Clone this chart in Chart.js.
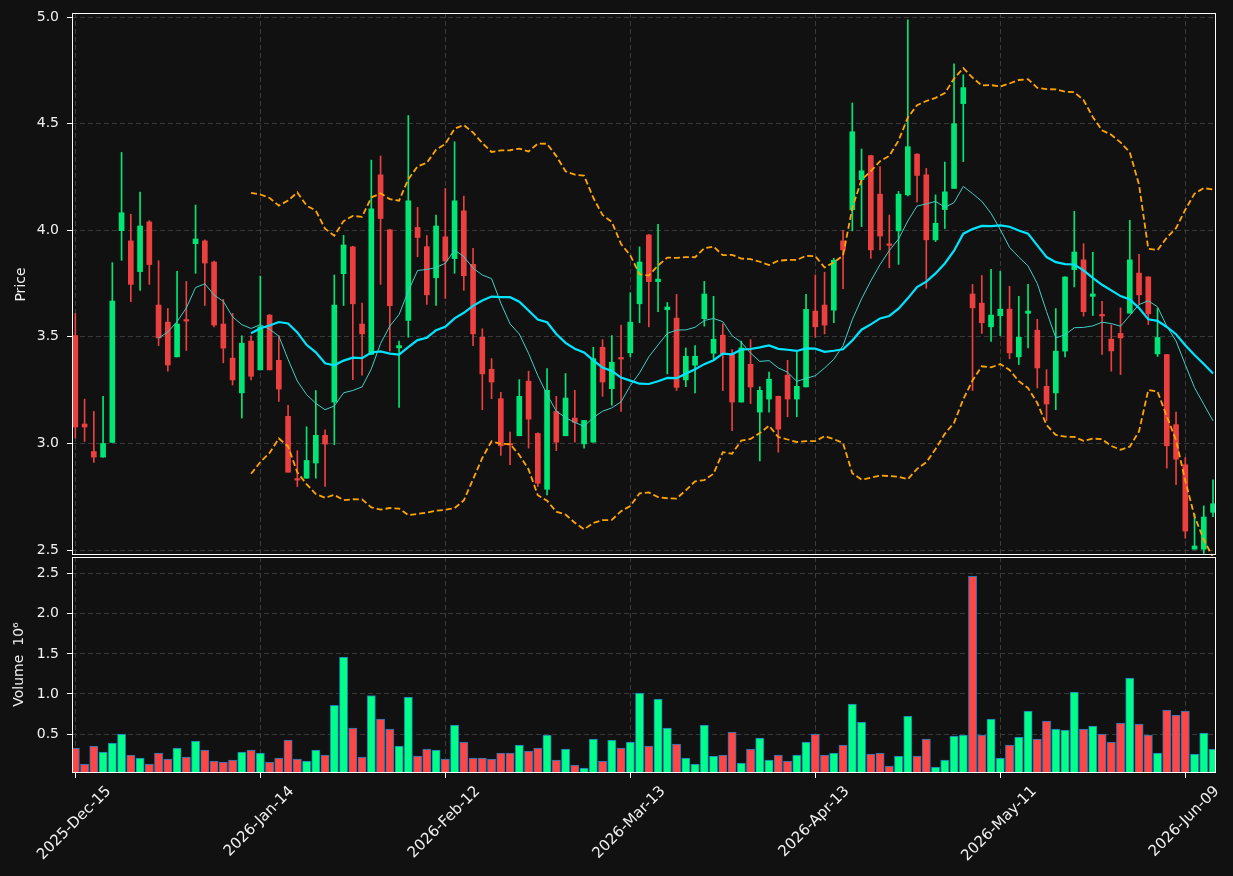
<!DOCTYPE html>
<html>
<head>
<meta charset="utf-8">
<script src="https://cdn.jsdelivr.net/npm/chart.js@4.4.1/dist/chart.umd.min.js"></script>
<style>
  html, body { margin: 0; padding: 0; background: #111111; }
  #wrap { width: 1233px; height: 876px; }
</style>
</head>
<body>
<div id="wrap"><canvas id="chart" width="1233" height="876"></canvas></div>
<script>
// ---- data ----
const opens = [3.506,3.091,2.962,2.936,3.005,3.998,3.950,3.806,4.039,3.649,
  3.569,3.406,3.577,3.937,3.950,3.851,3.560,3.400,3.237,3.480,
  3.345,3.602,3.390,3.127,2.831,2.837,2.908,3.038,3.194,3.796,
  3.922,3.560,3.417,4.260,4.002,3.448,3.577,4.013,3.923,3.777,
  3.969,3.867,4.091,3.840,3.498,3.348,3.210,3.000,3.036,3.292,
  3.047,2.785,3.150,3.036,3.119,2.998,3.006,3.451,3.257,3.400,
  3.425,3.655,3.978,3.759,3.627,3.588,3.298,3.367,3.585,3.423,
  3.508,3.417,3.194,3.371,3.147,3.208,3.221,3.320,3.208,3.265,
  3.621,3.649,3.625,3.950,4.096,4.237,4.350,4.169,3.933,3.997,
  4.166,4.357,4.260,3.955,4.097,4.196,4.594,3.701,3.658,3.547,
  3.599,3.630,3.406,3.610,3.531,3.268,3.237,3.433,3.815,3.861,
  3.690,3.602,3.489,3.516,3.611,3.799,3.781,3.420,3.417,3.088,
  2.900,2.504,2.504,2.677];
const highs = [3.610,3.208,3.150,3.221,3.848,4.365,4.075,4.179,4.045,3.857,
  3.633,3.807,3.760,4.118,3.955,3.855,3.676,3.610,3.505,3.505,
  3.785,3.605,3.505,3.179,2.966,3.078,3.248,3.064,3.790,3.976,
  3.925,3.658,4.329,4.348,4.005,3.480,4.538,4.107,3.975,4.071,
  4.196,4.415,4.160,3.915,3.538,3.398,3.240,3.053,3.299,3.339,
  3.050,3.351,3.221,3.328,3.249,3.108,3.451,3.487,3.506,3.555,
  3.707,3.922,3.980,4.028,3.661,3.699,3.448,3.459,3.760,3.690,
  3.561,3.440,3.480,3.487,3.266,3.335,3.222,3.390,3.429,3.699,
  3.790,3.803,3.868,4.000,4.597,4.381,4.352,4.299,4.071,4.182,
  4.987,4.360,4.290,4.166,4.320,4.780,4.729,3.746,3.788,3.817,
  3.807,3.737,3.690,3.746,3.582,3.346,3.633,3.781,4.089,3.937,
  3.897,3.666,3.556,3.636,4.047,3.887,3.782,3.633,3.418,3.147,
  2.934,2.669,2.707,2.829];
const lows = [3.025,3.009,2.911,2.936,3.005,3.859,3.665,3.718,3.746,3.459,
  3.339,3.406,3.436,3.798,3.647,3.547,3.378,3.274,3.119,3.298,
  3.345,3.345,3.197,2.865,2.798,2.837,2.837,2.798,2.994,3.647,
  3.299,3.320,3.417,3.746,3.433,3.169,3.498,3.876,3.652,3.647,
  3.680,3.798,3.718,3.459,3.158,3.210,2.944,2.900,3.036,2.978,
  2.798,2.759,2.966,3.036,3.006,2.978,3.006,3.221,3.179,3.150,
  3.406,3.566,3.547,3.618,3.326,3.248,3.266,3.237,3.550,3.398,
  3.248,3.060,3.194,3.187,2.918,3.147,2.959,3.125,3.125,3.265,
  3.498,3.514,3.566,3.726,3.997,4.017,3.868,3.908,3.824,3.840,
  4.161,4.133,3.728,3.947,4.008,4.196,4.322,3.248,3.516,3.478,
  3.506,3.397,3.370,3.448,3.260,3.107,3.158,3.406,3.734,3.597,
  3.600,3.417,3.339,3.323,3.611,3.652,3.558,3.408,2.884,2.806,
  2.555,2.504,2.484,2.657];
const closes = [3.077,3.077,2.936,3.000,3.668,4.082,3.746,4.020,3.839,3.495,
  3.368,3.560,3.574,3.959,3.846,3.555,3.447,3.298,3.470,3.315,
  3.547,3.345,3.255,2.865,2.828,2.920,3.038,2.997,3.649,3.931,
  3.655,3.514,4.100,4.055,3.646,3.459,4.138,3.966,3.697,4.020,
  3.856,4.138,3.787,3.514,3.326,3.288,2.989,2.992,3.221,3.114,
  2.813,3.249,3.006,3.213,3.099,3.108,3.398,3.288,3.381,3.396,
  3.569,3.851,3.759,3.771,3.640,3.263,3.409,3.409,3.701,3.489,
  3.420,3.194,3.448,3.265,3.249,3.301,3.067,3.208,3.268,3.629,
  3.547,3.555,3.859,3.908,4.462,4.279,3.908,3.973,3.929,4.169,
  4.392,4.257,3.955,4.033,4.180,4.500,4.669,3.636,3.566,3.602,
  3.630,3.425,3.498,3.621,3.354,3.185,3.433,3.781,3.898,3.618,
  3.701,3.598,3.434,3.495,3.861,3.697,3.608,3.497,2.989,2.926,
  2.589,2.519,2.655,2.717];
// volume in millions
const volumes = [0.326,0.127,0.351,0.276,0.389,0.500,0.239,0.202,0.127,0.264,
  0.189,0.326,0.214,0.413,0.301,0.164,0.152,0.177,0.276,0.301,
  0.264,0.152,0.202,0.426,0.189,0.164,0.301,0.239,0.857,1.459,
  0.575,0.214,0.981,0.687,0.563,0.351,0.961,0.226,0.314,0.301,
  0.189,0.613,0.401,0.202,0.202,0.189,0.264,0.264,0.364,0.289,
  0.326,0.488,0.177,0.314,0.115,0.077,0.438,0.164,0.426,0.326,
  0.401,1.011,0.351,0.936,0.575,0.376,0.202,0.127,0.613,0.226,
  0.239,0.526,0.139,0.314,0.451,0.177,0.239,0.164,0.239,0.401,
  0.500,0.239,0.264,0.364,0.874,0.650,0.252,0.264,0.102,0.226,
  0.725,0.226,0.438,0.090,0.177,0.476,0.488,2.468,0.488,0.687,
  0.202,0.364,0.463,0.787,0.438,0.662,0.563,0.550,1.024,0.563,
  0.600,0.500,0.401,0.638,1.198,0.625,0.488,0.264,0.800,0.737,
  0.787,0.252,0.513,0.314];

// x tick positions (bar index) and their date labels
const tickPos = [0, 20, 40, 60, 80, 100, 120];
const tickLabels = ['2025-Dec-15', '2026-Jan-14', '2026-Feb-12', '2026-Mar-13',
  '2026-Apr-13', '2026-May-11', '2026-Jun-09'];
const priceTicks = [2.5, 3.0, 3.5, 4.0, 4.5, 5.0];
const volTicks = [0.5, 1.0, 1.5, 2.0, 2.5];

// ---- colours ----
const UP = '#00e676';
const DOWN = '#ec3f3f';
const VOL_UP = '#00ff88';
const VOL_DOWN = '#ff4646';
const TEXT = '#f0f0f0';
const GRID = '#3a3a3a';
const FONT = 'DejaVu Sans';

// moving averages / bollinger bands from the closes
function sma(arr, n) {
    const out = [];
    for (let i = n - 1; i < arr.length; i++) {
        let s = 0;
        for (let k = i - n + 1; k <= i; k++) s += arr[k];
        out.push({ x: i, y: s / n });
    }
    return out;
}
function bands(arr, n, mult) {
    const upper = [], lower = [];
    for (let i = n - 1; i < arr.length; i++) {
        let s = 0;
        for (let k = i - n + 1; k <= i; k++) s += arr[k];
        const m = s / n;
        let v = 0;
        for (let k = i - n + 1; k <= i; k++) v += (arr[k] - m) * (arr[k] - m);
        const sd = Math.sqrt(v / n);
        upper.push({ x: i, y: m + mult * sd });
        lower.push({ x: i, y: m - mult * sd });
    }
    return { upper, lower };
}

const idx = closes.map((_, i) => i);
const isUp = idx.map(i => closes[i] >= opens[i]);
const bb = bands(closes, 20, 2);

// white frame round each panel (crisp 1px lines, small gap between panels)
const framePlugin = {
    id: 'frames',
    afterDraw(chart) {
        const { ctx, chartArea } = chart;
        const p = chart.scales.y, v = chart.scales.yv;
        const l = Math.round(chartArea.left) + 0.5;
        const r = Math.round(chartArea.right) - 0.5;
        ctx.save();
        ctx.strokeStyle = '#ffffff';
        ctx.lineWidth = 1;
        ctx.strokeRect(l, Math.round(p.top) + 0.5, r - l, Math.round(p.bottom) - Math.round(p.top) - 2);
        ctx.strokeRect(l, Math.round(v.top) + 1.5, r - l, Math.round(v.bottom) - Math.round(v.top) - 2);
        ctx.restore();
    }
};

// date labels rotated 45deg, centred on their tick (matplotlib style)
const dateLabelPlugin = {
    id: 'dateLabels',
    afterDraw(chart) {
        const { ctx } = chart;
        const xs = chart.scales.x;
        ctx.save();
        ctx.fillStyle = TEXT;
        ctx.font = '15px "DejaVu Sans"';
        ctx.textAlign = 'center';
        ctx.textBaseline = 'middle';
        tickPos.forEach((p, k) => {
            const w = ctx.measureText(tickLabels[k]).width;
            const cx = xs.getPixelForValue(p) - 1;
            const cy = xs.top + 12 + (w + 11) / (2 * Math.SQRT2);
            ctx.save();
            ctx.translate(cx, cy);
            ctx.rotate(-Math.PI / 4);
            ctx.fillText(tickLabels[k], 0, 0);
            ctx.restore();
        });
        ctx.restore();
    }
};

function fixLeftAxis(s) {
    s.width = 72;
    s.paddingTop = 0;
    s.paddingBottom = 0;
}

const ctx = document.getElementById('chart').getContext('2d');
new Chart(ctx, {
    type: 'bar',
    data: {
        datasets: [
            {
                type: 'line', label: 'SMA20', yAxisID: 'y', order: 0,
                data: sma(closes, 20),
                borderColor: '#00e5ff', borderWidth: 2.2, pointRadius: 0, tension: 0
            },
            {
                type: 'line', label: 'SMA10', yAxisID: 'y', order: 0,
                data: sma(closes, 10),
                borderColor: '#3fcfc6', borderWidth: 1, pointRadius: 0, tension: 0
            },
            {
                type: 'line', label: 'BB upper', yAxisID: 'y', order: 0,
                data: bb.upper,
                borderColor: '#ffa500', borderWidth: 1.8, borderDash: [6, 3], pointRadius: 0, tension: 0
            },
            {
                type: 'line', label: 'BB lower', yAxisID: 'y', order: 0,
                data: bb.lower,
                borderColor: '#ffa500', borderWidth: 1.8, borderDash: [6, 3], pointRadius: 0, tension: 0
            },
            {
                label: 'body', yAxisID: 'y', order: 1, grouped: false,
                data: idx.map(i => ({ x: i, y: [opens[i], closes[i]] })),
                backgroundColor: isUp.map(u => u ? UP : DOWN),
                barThickness: 5, minBarLength: 1.5, borderWidth: 0
            },
            {
                label: 'wick', yAxisID: 'y', order: 2, grouped: false,
                data: idx.map(i => ({ x: i, y: [lows[i], highs[i]] })),
                backgroundColor: isUp.map(u => u ? UP : DOWN),
                barThickness: 1, borderWidth: 0
            },
            {
                label: 'volume', yAxisID: 'yv', order: 1, grouped: false,
                data: idx.map(i => ({ x: i, y: volumes[i] })),
                backgroundColor: isUp.map(u => u ? VOL_UP : VOL_DOWN),
                borderColor: '#1f77b4', borderWidth: 1,
                barThickness: 8.3
            }
        ]
    },
    options: {
        responsive: false,
        animation: false,
        devicePixelRatio: 1,
        layout: { padding: { top: 13, right: 17, left: 0, bottom: 0 } },
        plugins: { legend: { display: false }, tooltip: { enabled: false } },
        scales: {
            // left boxes are stacked in reverse order: yv first puts it at the bottom
            yv: {
                type: 'linear', position: 'left', stack: 'main', stackWeight: 217,
                min: 0.015, max: 2.72,
                afterBuildTicks: s => { s.ticks = volTicks.map(v => ({ value: v })); },
                afterFit: fixLeftAxis,
                ticks: { color: TEXT, font: { family: FONT, size: 14 }, padding: 8, callback: v => v.toFixed(1) },
                grid: { color: GRID, tickColor: '#ffffff', tickLength: 5, tickBorderDash: [] },
                border: { display: false, dash: [5, 3] },
                title: { display: true, text: 'Volume  10\u2076', color: TEXT, font: { family: FONT, size: 14 }, padding: { top: 11, bottom: 4 } }
            },
            y: {
                type: 'linear', position: 'left', stack: 'main', stackWeight: 543,
                min: 2.472, max: 5.019,
                afterBuildTicks: s => { s.ticks = priceTicks.map(v => ({ value: v })); },
                afterFit: fixLeftAxis,
                ticks: { color: TEXT, font: { family: FONT, size: 14 }, padding: 8, callback: v => v.toFixed(1) },
                grid: { color: GRID, tickColor: '#ffffff', tickLength: 5, tickBorderDash: [] },
                border: { display: false, dash: [5, 3] },
                title: { display: true, text: 'Price', color: TEXT, font: { family: FONT, size: 14 }, padding: { top: 13, bottom: 4 } }
            },
            x: {
                type: 'linear', position: 'bottom', offset: false,
                min: -0.36, max: 123.32,
                afterBuildTicks: s => { s.ticks = tickPos.map(v => ({ value: v })); },
                afterFit: s => { s.height = 103; s.paddingLeft = 0; s.paddingRight = 0; },
                ticks: { display: false },
                grid: { color: GRID, offset: false, tickColor: '#ffffff', tickLength: 5, tickBorderDash: [] },
                border: { display: false, dash: [5, 3] }
            }
        }
    },
    plugins: [framePlugin, dateLabelPlugin]
});
</script>
</body>
</html>
